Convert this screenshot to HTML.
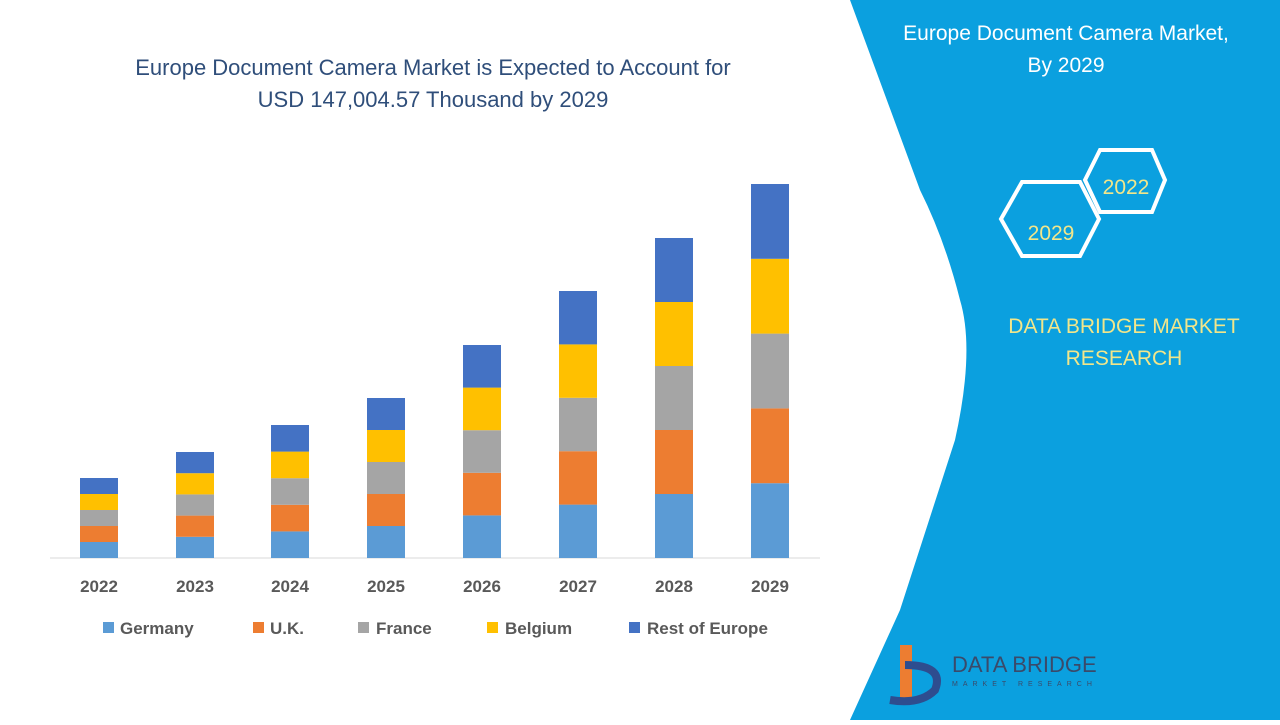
<!DOCTYPE html>
<html><head><style>
body{margin:0;width:1280px;height:720px;overflow:hidden;background:#fff;font-family:"Liberation Sans",sans-serif;}
</style></head><body>
<svg width="1280" height="720" viewBox="0 0 1280 720" xmlns="http://www.w3.org/2000/svg" font-family="Liberation Sans, sans-serif">
<rect width="1280" height="720" fill="#fff"/>
<path d="M850,0 L1280,0 L1280,720 L850,720 L900,610 L955,440 Q975,350 960,300 Q945,240 920,190 Z" fill="#0BA0DF"/>
<text x="1066" y="40" font-size="21" fill="#fff" text-anchor="middle">Europe Document Camera Market,</text>
<text x="1066" y="72" font-size="21" fill="#fff" text-anchor="middle">By 2029</text>
<polygon points="1100,150 1152,150 1165,180 1152,212 1100,212 1085,180" fill="none" stroke="#fff" stroke-width="4"/>
<polygon points="1022,182 1080,182 1099,219 1080,256 1022,256 1001,219" fill="none" stroke="#fff" stroke-width="4"/>
<text x="1126" y="194" font-size="21" fill="#F2E68A" text-anchor="middle">2022</text>
<text x="1051" y="240" font-size="21" fill="#F2E68A" text-anchor="middle">2029</text>
<text x="1124" y="333" font-size="21" fill="#F2E68A" text-anchor="middle">DATA BRIDGE MARKET</text>
<text x="1124" y="365" font-size="21" fill="#F2E68A" text-anchor="middle">RESEARCH</text>
<path d="M900,645 L912,645 L912,700 L900,700 Z" fill="#ED7D31"/>
<path d="M905,665 Q945,665 935,690 Q920,705 890,700" fill="none" stroke="#2E4D8F" stroke-width="8"/>
<text x="952" y="672" font-size="22" fill="#3a4a6a">DATA BRIDGE</text>
<text x="952" y="686" font-size="7" fill="#3a4a6a" letter-spacing="5">MARKET RESEARCH</text>
<text x="433" y="75" font-size="22" fill="#2F4E7A" text-anchor="middle">Europe Document Camera Market is Expected to Account for</text>
<text x="433" y="107" font-size="22" fill="#2F4E7A" text-anchor="middle">USD 147,004.57 Thousand by 2029</text>
<line x1="50" y1="558" x2="820" y2="558" stroke="#d9d9d9" stroke-width="1"/>
<g id="bars"></g>
<g font-size="17" font-weight="bold" fill="#595959" text-anchor="middle">
<text x="99" y="592">2022</text><text x="195" y="592">2023</text><text x="290" y="592">2024</text><text x="386" y="592">2025</text><text x="482" y="592">2026</text><text x="578" y="592">2027</text><text x="674" y="592">2028</text><text x="770" y="592">2029</text>
</g>
<g font-size="17" font-weight="bold" fill="#595959">
<rect x="103" y="622" width="11" height="11" fill="#5B9BD5"/><text x="120" y="634">Germany</text>
<rect x="253" y="622" width="11" height="11" fill="#ED7D31"/><text x="270" y="634">U.K.</text>
<rect x="358" y="622" width="11" height="11" fill="#A5A5A5"/><text x="376" y="634">France</text>
<rect x="487" y="622" width="11" height="11" fill="#FFC000"/><text x="505" y="634">Belgium</text>
<rect x="629" y="622" width="11" height="11" fill="#4472C4"/><text x="647" y="634">Rest of Europe</text>
</g>
</svg>
<script>
const xs=[99,195,290,386,482,578,674,770],tops=[478,452,425,398,345,291,238,184];
const cols=["#5B9BD5","#ED7D31","#A5A5A5","#FFC000","#4472C4"];
const g=document.getElementById("bars");let s="";
xs.forEach((x,i)=>{const h=(558-tops[i])/5;for(let k=0;k<5;k++){const y=558-h*(k+1);s+=`<rect x="${x-19}" y="${y}" width="38" height="${h}" fill="${cols[k]}"/>`;}});
g.innerHTML=s;
</script>
</body></html>
